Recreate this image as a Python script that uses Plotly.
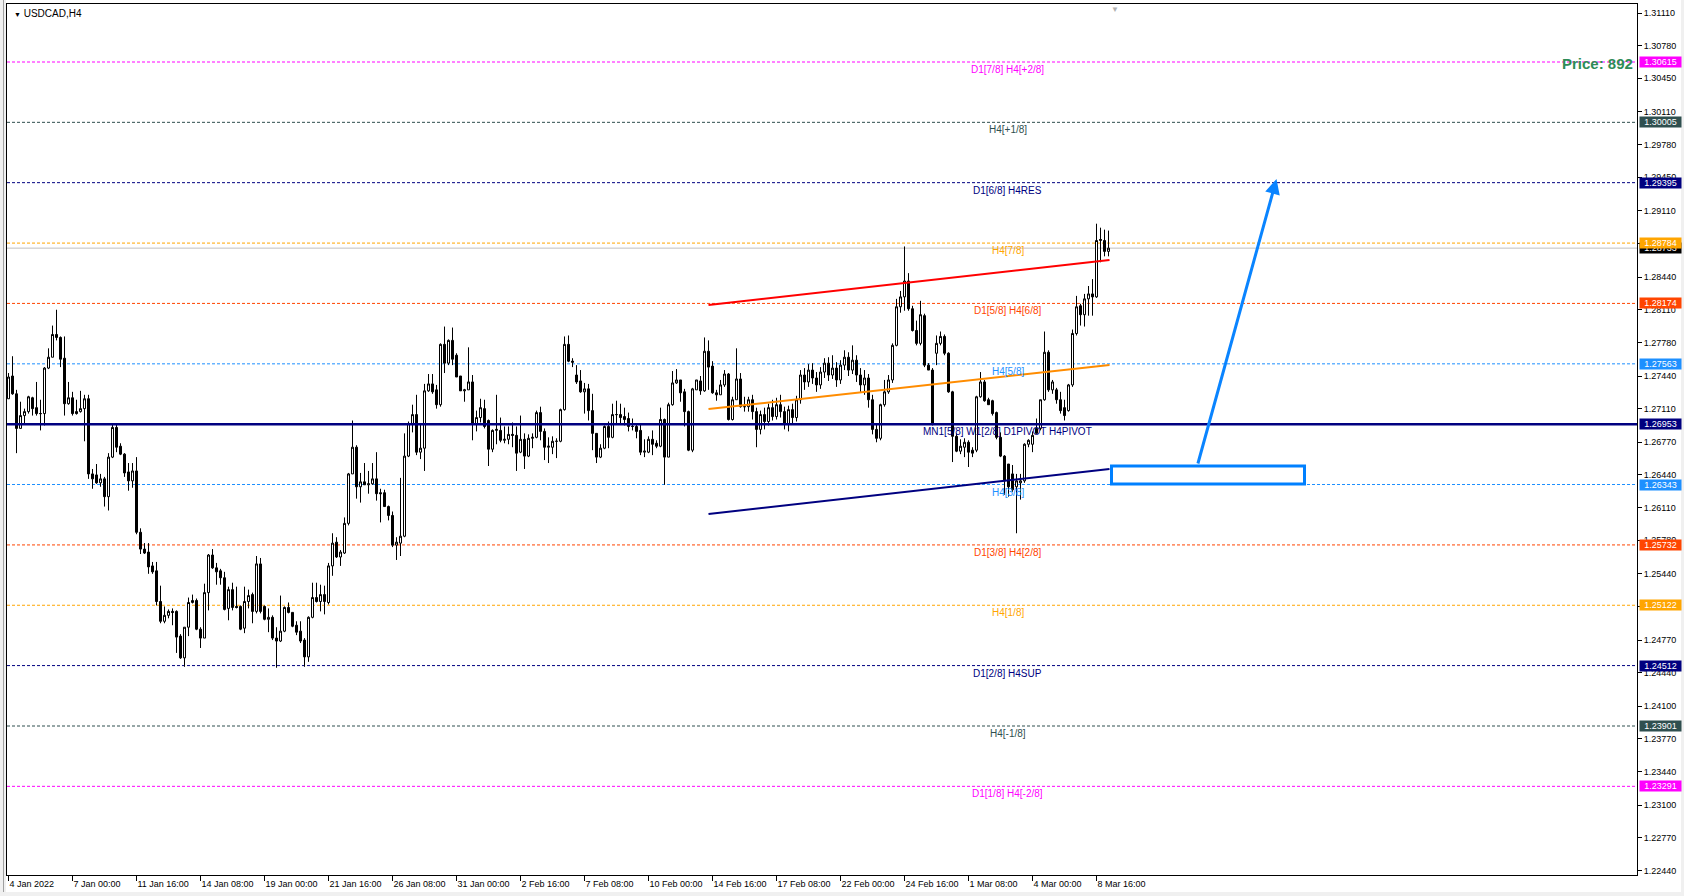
import plotly.graph_objects as go

# ---------------- DATA ----------------
opens = [
    1.2721, 1.2744, 1.2726, 1.2691, 1.2704, 1.2708, 1.2722, 1.2712, 1.2706, 1.2706,
    1.2752, 1.2763, 1.2786, 1.2783, 1.2762, 1.2716, 1.2722, 1.2708, 1.2708, 1.2711,
    1.2721, 1.2645, 1.2644, 1.2636, 1.2640, 1.2622, 1.2662, 1.2692, 1.2673, 1.2665,
    1.2647, 1.2638, 1.2648, 1.2586, 1.2569, 1.2566, 1.2552, 1.2547, 1.2516, 1.2496,
    1.2502, 1.2506, 1.2506, 1.2481, 1.2459, 1.2490, 1.2515, 1.2517, 1.2488, 1.2479,
    1.2525, 1.2563, 1.2550, 1.2547, 1.2540, 1.2509, 1.2528, 1.2511, 1.2511, 1.2489,
    1.2516, 1.2523, 1.2506, 1.2554, 1.2511, 1.2498, 1.2500, 1.2479, 1.2476, 1.2486,
    1.2510, 1.2505, 1.2492, 1.2486, 1.2477, 1.2460, 1.2500, 1.2520, 1.2516, 1.2523,
    1.2515, 1.2552, 1.2576, 1.2561, 1.2565, 1.2595, 1.2645, 1.2672, 1.2632, 1.2637,
    1.2634, 1.2635, 1.2640, 1.2626, 1.2626, 1.2612, 1.2603, 1.2573, 1.2575, 1.2582,
    1.2663, 1.2696, 1.2705, 1.2667, 1.2671, 1.2729, 1.2736, 1.2730, 1.2715, 1.2776,
    1.2757, 1.2780, 1.2765, 1.2744, 1.2729, 1.2730, 1.2738, 1.2695, 1.2702, 1.2711,
    1.2699, 1.2670, 1.2689, 1.2689, 1.2679, 1.2680, 1.2685, 1.2684, 1.2667, 1.2680,
    1.2663, 1.2681, 1.2682, 1.2707, 1.2688, 1.2672, 1.2672, 1.2678, 1.2678, 1.2710,
    1.2776, 1.2759, 1.2745, 1.2739, 1.2728, 1.2731, 1.2709, 1.2686, 1.2662, 1.2671,
    1.2693, 1.2682, 1.2705, 1.2705, 1.2703, 1.2701, 1.2693, 1.2693, 1.2689, 1.2667,
    1.2667, 1.2680, 1.2676, 1.2673, 1.2700, 1.2662, 1.2715, 1.2737, 1.2740, 1.2728,
    1.2708, 1.2669, 1.2730, 1.2739, 1.2729, 1.2769, 1.2754, 1.2727, 1.2725, 1.2735,
    1.2746, 1.2700, 1.2720, 1.2741, 1.2713, 1.2713, 1.2720, 1.2708, 1.2690, 1.2705,
    1.2698, 1.2712, 1.2703, 1.2715, 1.2708, 1.2696, 1.2710, 1.2702, 1.2720, 1.2745,
    1.2738, 1.2750, 1.2742, 1.2735, 1.2748, 1.2757, 1.2745, 1.2752, 1.2740, 1.2755,
    1.2763, 1.2750, 1.2760, 1.2745, 1.2735, 1.2742, 1.2720, 1.2690, 1.2681, 1.2715,
    1.2728, 1.2740, 1.2775, 1.2814, 1.2824, 1.2840, 1.2812, 1.2790, 1.2777, 1.2805,
    1.2755, 1.2750, 1.2767, 1.2777, 1.2784, 1.2767, 1.2728, 1.2683, 1.2668, 1.2672,
    1.2677, 1.2669, 1.2669, 1.2723, 1.2738, 1.2720, 1.2719, 1.2707, 1.2682, 1.2663,
    1.2655, 1.2645, 1.2632, 1.2636, 1.2638, 1.2675, 1.2675, 1.2691, 1.2691, 1.2720,
    1.2768, 1.2730, 1.2730, 1.2720, 1.2712, 1.2709, 1.2735, 1.2787, 1.2815, 1.2806,
    1.2822, 1.2827, 1.2824, 1.2881, 1.2881, 1.2870,
]
highs = [
    1.2747, 1.2764, 1.2730, 1.2718, 1.2711, 1.2724, 1.2723, 1.2738, 1.2720, 1.2753,
    1.2772, 1.2795, 1.2811, 1.2784, 1.2784, 1.2738, 1.2728, 1.2720, 1.2729, 1.2725,
    1.2725, 1.2650, 1.2655, 1.2645, 1.2642, 1.2666, 1.2695, 1.2695, 1.2676, 1.2666,
    1.2656, 1.2656, 1.2662, 1.2590, 1.2575, 1.2575, 1.2556, 1.2556, 1.2532, 1.2511,
    1.2508, 1.2509, 1.2507, 1.2483, 1.2490, 1.2520, 1.2523, 1.2519, 1.2490, 1.2534,
    1.2564, 1.2569, 1.2555, 1.2549, 1.2546, 1.2531, 1.2535, 1.2531, 1.2512, 1.2531,
    1.2528, 1.2525, 1.2562, 1.2560, 1.2512, 1.2509, 1.2502, 1.2490, 1.2522, 1.2511,
    1.2515, 1.2505, 1.2496, 1.2496, 1.2479, 1.2501, 1.2535, 1.2535, 1.2533, 1.2532,
    1.2555, 1.2585, 1.2581, 1.2568, 1.2601, 1.2646, 1.2699, 1.2674, 1.2646, 1.2656,
    1.2648, 1.2656, 1.2667, 1.2630, 1.2629, 1.2613, 1.2607, 1.2581, 1.2641, 1.2686,
    1.2698, 1.2715, 1.2725, 1.2696, 1.2736, 1.2746, 1.2746, 1.2735, 1.2777, 1.2794,
    1.2781, 1.2793, 1.2767, 1.2744, 1.2731, 1.2773, 1.2745, 1.2709, 1.2721, 1.2720,
    1.2700, 1.2690, 1.2725, 1.2702, 1.2693, 1.2693, 1.2697, 1.2693, 1.2704, 1.2686,
    1.2685, 1.2686, 1.2709, 1.2713, 1.2691, 1.2682, 1.2683, 1.2681, 1.2711, 1.2784,
    1.2785, 1.2762, 1.2755, 1.2750, 1.2737, 1.2736, 1.2726, 1.2686, 1.2675, 1.2694,
    1.2698, 1.2716, 1.2719, 1.2716, 1.2712, 1.2707, 1.2701, 1.2695, 1.2696, 1.2680,
    1.2683, 1.2689, 1.2679, 1.2712, 1.2701, 1.2717, 1.2749, 1.2751, 1.2740, 1.2731,
    1.2709, 1.2732, 1.2740, 1.2744, 1.2783, 1.2780, 1.2759, 1.2730, 1.2740, 1.2750,
    1.2747, 1.2723, 1.2772, 1.2747, 1.2723, 1.2723, 1.2725, 1.2712, 1.2709, 1.2712,
    1.2716, 1.2720, 1.2722, 1.2725, 1.2713, 1.2714, 1.2716, 1.2724, 1.2750, 1.2752,
    1.2756, 1.2757, 1.2748, 1.2753, 1.2762, 1.2763, 1.2765, 1.2758, 1.2760, 1.2770,
    1.2768, 1.2775, 1.2765, 1.2752, 1.2750, 1.2746, 1.2725, 1.2696, 1.2716, 1.2740,
    1.2745, 1.2777, 1.2822, 1.2830, 1.2875, 1.2848, 1.2815, 1.2800, 1.2820, 1.2807,
    1.2757, 1.2752, 1.2785, 1.2789, 1.2786, 1.2768, 1.2729, 1.2686, 1.2680, 1.2681,
    1.2679, 1.2672, 1.2724, 1.2748, 1.2740, 1.2722, 1.2720, 1.2708, 1.2687, 1.2664,
    1.2655, 1.2654, 1.2645, 1.2645, 1.2676, 1.2680, 1.2688, 1.2701, 1.2720, 1.2789,
    1.2770, 1.2740, 1.2732, 1.2728, 1.2720, 1.2736, 1.2791, 1.2825, 1.2817, 1.2827,
    1.2835, 1.2842, 1.2898, 1.2894, 1.2892, 1.2891,
]
lows = [
    1.2721, 1.2725, 1.2666, 1.2691, 1.2696, 1.2706, 1.2704, 1.2704, 1.2689, 1.2694,
    1.2751, 1.2763, 1.2780, 1.2753, 1.2704, 1.2715, 1.2704, 1.2705, 1.2707, 1.2678,
    1.2640, 1.2630, 1.2635, 1.2632, 1.2612, 1.2608, 1.2661, 1.2667, 1.2664, 1.2642,
    1.2628, 1.2631, 1.2584, 1.2564, 1.2564, 1.2544, 1.2544, 1.2512, 1.2494, 1.2494,
    1.2499, 1.2492, 1.2464, 1.2458, 1.2450, 1.2481, 1.2514, 1.2487, 1.2469, 1.2479,
    1.2507, 1.2549, 1.2533, 1.2533, 1.2507, 1.2497, 1.2507, 1.2509, 1.2487, 1.2484,
    1.2509, 1.2494, 1.2504, 1.2504, 1.2497, 1.2485, 1.2477, 1.2449, 1.2475, 1.2485,
    1.2504, 1.2490, 1.2482, 1.2474, 1.2450, 1.2455, 1.2499, 1.2515, 1.2506, 1.2503,
    1.2513, 1.2542, 1.2560, 1.2552, 1.2564, 1.2593, 1.2645, 1.2620, 1.2616, 1.2634,
    1.2625, 1.2634, 1.2618, 1.2596, 1.2612, 1.2598, 1.2571, 1.2558, 1.2562, 1.2581,
    1.2662, 1.2687, 1.2664, 1.2660, 1.2648, 1.2728, 1.2726, 1.2711, 1.2713, 1.2747,
    1.2755, 1.2755, 1.2743, 1.2729, 1.2718, 1.2730, 1.2679, 1.2688, 1.2697, 1.2691,
    1.2653, 1.2667, 1.2675, 1.2677, 1.2676, 1.2675, 1.2672, 1.2648, 1.2666, 1.2650,
    1.2662, 1.2671, 1.2681, 1.2679, 1.2659, 1.2656, 1.2665, 1.2661, 1.2677, 1.2709,
    1.2758, 1.2753, 1.2736, 1.2727, 1.2706, 1.2699, 1.2669, 1.2656, 1.2661, 1.2670,
    1.2671, 1.2681, 1.2696, 1.2696, 1.2694, 1.2688, 1.2689, 1.2681, 1.2664, 1.2662,
    1.2666, 1.2664, 1.2671, 1.2672, 1.2634, 1.2662, 1.2714, 1.2736, 1.2718, 1.2693,
    1.2668, 1.2667, 1.2730, 1.2725, 1.2728, 1.2730, 1.2726, 1.2719, 1.2725, 1.2733,
    1.2699, 1.2699, 1.2720, 1.2712, 1.2708, 1.2708, 1.2700, 1.2672, 1.2685, 1.2690,
    1.2694, 1.2699, 1.2700, 1.2702, 1.2690, 1.2688, 1.2695, 1.2698, 1.2716, 1.2730,
    1.2733, 1.2736, 1.2728, 1.2731, 1.2742, 1.2739, 1.2741, 1.2733, 1.2736, 1.2750,
    1.2744, 1.2746, 1.2738, 1.2728, 1.2725, 1.2712, 1.2685, 1.2677, 1.2679, 1.2713,
    1.2726, 1.2737, 1.2774, 1.2808, 1.2810, 1.2810, 1.2789, 1.2775, 1.2775, 1.2753,
    1.2750, 1.2694, 1.2755, 1.2775, 1.2765, 1.2727, 1.2657, 1.2667, 1.2665, 1.2662,
    1.2652, 1.2662, 1.2667, 1.2722, 1.2718, 1.2715, 1.2704, 1.2680, 1.2662, 1.2624,
    1.2622, 1.2627, 1.2585, 1.2619, 1.2636, 1.2672, 1.2667, 1.2686, 1.2689, 1.2719,
    1.2728, 1.2726, 1.2716, 1.2706, 1.2699, 1.2708, 1.2733, 1.2785, 1.2795, 1.2794,
    1.2805, 1.2805, 1.2823, 1.2859, 1.2865, 1.2865,
]
closes = [
    1.2743, 1.2726, 1.2691, 1.2704, 1.2708, 1.2723, 1.2711, 1.2706, 1.2706, 1.2752,
    1.2763, 1.2786, 1.2783, 1.2761, 1.2716, 1.2722, 1.2706, 1.2706, 1.2711, 1.2721,
    1.2645, 1.2640, 1.2636, 1.2640, 1.2622, 1.2662, 1.2692, 1.2672, 1.2665, 1.2646,
    1.2638, 1.2648, 1.2586, 1.2569, 1.2565, 1.2551, 1.2546, 1.2516, 1.2496, 1.2502,
    1.2506, 1.2505, 1.2480, 1.2459, 1.2490, 1.2515, 1.2517, 1.2488, 1.2479, 1.2525,
    1.2563, 1.2550, 1.2546, 1.2540, 1.2508, 1.2528, 1.2510, 1.2510, 1.2488, 1.2516,
    1.2522, 1.2506, 1.2554, 1.2506, 1.2498, 1.2500, 1.2479, 1.2476, 1.2486, 1.2510,
    1.2505, 1.2491, 1.2485, 1.2476, 1.2460, 1.2500, 1.2520, 1.2516, 1.2523, 1.2516,
    1.2552, 1.2575, 1.2561, 1.2566, 1.2595, 1.2645, 1.2672, 1.2632, 1.2637, 1.2634,
    1.2635, 1.2640, 1.2625, 1.2625, 1.2612, 1.2603, 1.2573, 1.2576, 1.2582, 1.2663,
    1.2696, 1.2705, 1.2667, 1.2671, 1.2729, 1.2736, 1.2728, 1.2715, 1.2776, 1.2757,
    1.2780, 1.2761, 1.2743, 1.2729, 1.2730, 1.2738, 1.2695, 1.2702, 1.2712, 1.2693,
    1.2670, 1.2689, 1.2690, 1.2679, 1.2680, 1.2685, 1.2684, 1.2666, 1.2680, 1.2663,
    1.2681, 1.2682, 1.2707, 1.2688, 1.2672, 1.2673, 1.2678, 1.2678, 1.2710, 1.2776,
    1.2759, 1.2758, 1.2738, 1.2728, 1.2731, 1.2709, 1.2686, 1.2662, 1.2671, 1.2693,
    1.2682, 1.2705, 1.2705, 1.2702, 1.2700, 1.2693, 1.2693, 1.2688, 1.2667, 1.2668,
    1.2680, 1.2675, 1.2673, 1.2700, 1.2662, 1.2715, 1.2737, 1.2740, 1.2727, 1.2708,
    1.2669, 1.2731, 1.2740, 1.2729, 1.2769, 1.2753, 1.2727, 1.2725, 1.2735, 1.2746,
    1.2700, 1.2720, 1.2741, 1.2713, 1.2713, 1.2720, 1.2708, 1.2690, 1.2705, 1.2698,
    1.2712, 1.2703, 1.2715, 1.2708, 1.2696, 1.2710, 1.2702, 1.2720, 1.2745, 1.2738,
    1.2750, 1.2742, 1.2735, 1.2748, 1.2757, 1.2745, 1.2752, 1.2740, 1.2755, 1.2763,
    1.2750, 1.2760, 1.2745, 1.2735, 1.2742, 1.2720, 1.2690, 1.2681, 1.2715, 1.2728,
    1.2740, 1.2775, 1.2814, 1.2824, 1.2840, 1.2812, 1.2790, 1.2777, 1.2806, 1.2755,
    1.2750, 1.2695, 1.2777, 1.2784, 1.2767, 1.2728, 1.2683, 1.2668, 1.2673, 1.2677,
    1.2667, 1.2666, 1.2723, 1.2738, 1.2719, 1.2715, 1.2706, 1.2682, 1.2663, 1.2638,
    1.2632, 1.2629, 1.2638, 1.2638, 1.2675, 1.2679, 1.2684, 1.2686, 1.2720, 1.2768,
    1.2730, 1.2738, 1.2720, 1.2709, 1.2704, 1.2735, 1.2787, 1.2814, 1.2806, 1.2822,
    1.2827, 1.2824, 1.2881, 1.2882, 1.2870, 1.28733,
]

x_tick_bars = [0, 16, 32, 48, 64, 80, 96, 112, 128, 144, 160, 176, 192, 208, 224, 240, 256, 272]
x_tick_text = ["4 Jan 2022", "7 Jan 00:00", "11 Jan 16:00", "14 Jan 08:00", "19 Jan 00:00",
               "21 Jan 16:00", "26 Jan 08:00", "31 Jan 00:00", "2 Feb 16:00", "7 Feb 08:00",
               "10 Feb 00:00", "14 Feb 16:00", "17 Feb 08:00", "22 Feb 00:00", "24 Feb 16:00",
               "1 Mar 08:00", "4 Mar 00:00", "8 Mar 16:00"]

price_tick_text = ["1.31110", "1.30780", "1.30450", "1.30110", "1.29780", "1.29450", "1.29110",
                   "1.28780", "1.28440", "1.28110", "1.27780", "1.27440", "1.27110", "1.26770",
                   "1.26440", "1.26110", "1.25780", "1.25440", "1.25110", "1.24770", "1.24440",
                   "1.24100", "1.23770", "1.23440", "1.23100", "1.22770", "1.22440"]

level_prices = [1.30615, 1.30005, 1.29395, 1.28784, 1.28174, 1.27563, 1.26953,
                1.26343, 1.25732, 1.25122, 1.24512, 1.23901, 1.23291]
level_names = ["D1[7/8] H4[+2/8]", "H4[+1/8]", "D1[6/8] H4RES", "H4[7/8]", "D1[5/8] H4[6/8]",
               "H4[5/8]", "MN1[5/8] W1[2/8] D1PIVOT H4PIVOT", "H4[3/8]", "D1[3/8] H4[2/8]",
               "H4[1/8]", "D1[2/8] H4SUP", "H4[-1/8]", "D1[1/8] H4[-2/8]"]
current_price = 1.28733
price_note = "Price: 892"

trend_x = [175, 275.25]
red_trend = [1.28158, 1.28613]
orange_trend = [1.27106, 1.27551]
navy_trend = [1.26045, 1.26500]

zone_x = [275.75, 324]
zone_y = [1.26348, 1.26530]
arrow_x = [297.25, 317]
arrow_y = [1.26540, 1.29432]

# ---------------- STYLE ----------------
level_colors = ["#FF00FF", "#2F4F4F", "#000080", "#FFA500", "#FF4500", "#1E90FF", "#000080",
                "#1E90FF", "#FF4500", "#FFA500", "#000080", "#2F4F4F", "#FF00FF"]
FONT = "Liberation Sans"
W, H = 1684, 896
ML, MR, MT, MB = 7, 47, 4, 21
PW, PH = W - ML - MR, H - MT - MB

bars = list(range(len(opens)))

fig = go.Figure()
fig.add_trace(go.Candlestick(
    x=bars, open=opens, high=highs, low=lows, close=closes,
    increasing=dict(fillcolor="white", line=dict(color="black", width=1)),
    decreasing=dict(fillcolor="black", line=dict(color="black", width=1)),
    whiskerwidth=0, hoverinfo="skip", showlegend=False,
))

shapes = []
annotations = []

# level lines
for p, c, name in zip(level_prices, level_colors, level_names):
    pivot = name.startswith("MN1")
    shapes.append(dict(type="line", xref="paper", x0=0, x1=1, yref="y", y0=p, y1=p,
                       line=dict(color=c, width=2.5 if pivot else 1,
                                 dash="solid" if pivot else "3px,2px"),
                       layer="above" if pivot else "below"))
    annotations.append(dict(x=249.75, y=p, xref="x", yref="y", text=name, showarrow=False,
                            xanchor="center", yanchor="top", yshift=0,
                            font=dict(family=FONT, size=10, color=c)))

# current price line
shapes.append(dict(type="line", xref="paper", x0=0, x1=1, yref="y", y0=current_price,
                   y1=current_price, line=dict(color="#C0C0C0", width=1), layer="below"))

# trend lines
for ys, col in [(red_trend, "#FF0000"), (orange_trend, "#FF8C00"), (navy_trend, "#000080")]:
    shapes.append(dict(type="line", xref="x", yref="y", x0=trend_x[0], x1=trend_x[1],
                       y0=ys[0], y1=ys[1], line=dict(color=col, width=2), layer="above"))

# zone rectangle
shapes.append(dict(type="rect", xref="x", yref="y", x0=zone_x[0], x1=zone_x[1],
                   y0=zone_y[0], y1=zone_y[1], line=dict(color="#0080FF", width=3),
                   fillcolor="rgba(0,0,0,0)", layer="above"))

# arrow
annotations.append(dict(x=arrow_x[1], y=arrow_y[1], ax=arrow_x[0], ay=arrow_y[0],
                        xref="x", yref="y", axref="x", ayref="y", text="", showarrow=True,
                        arrowhead=2, arrowsize=1, arrowwidth=3, arrowcolor="#0A84FF",
                        standoff=0, startstandoff=0))

# right axis price boxes (current price box first, under the orange one)
box_list = [(current_price, "#000000")] + list(zip(level_prices, level_colors))
for p, c in box_list:
    annotations.append(dict(x=1, y=p, xref="paper", yref="y", text=f"{p:.5f}",
                            showarrow=False, xanchor="left", yanchor="middle", xshift=2,
                            width=39, height=8, borderpad=1, bgcolor=c, align="center",
                            font=dict(family=FONT, size=9, color="white")))

# Price note
annotations.append(dict(x=1, y=level_prices[0], xref="paper", yref="y",
                        text=f"<b>{price_note}</b>", showarrow=False, xanchor="right",
                        yanchor="middle", xshift=-2, yshift=-1,
                        font=dict(family=FONT, size=15, color="#2E8B57")))

# title
annotations.append(dict(x=5 / PW, y=1, xref="paper", yref="paper",
                        text="<span style='font-size:7px'>▼</span> USDCAD,H4",
                        showarrow=False, xanchor="left", yanchor="top", yshift=-2,
                        font=dict(family=FONT, size=10, color="black")))

# chart shift marker
annotations.append(dict(x=276.5, y=1, xref="x", yref="paper", text="▼", showarrow=False,
                        xanchor="center", yanchor="top", yshift=1,
                        font=dict(family=FONT, size=8, color="#B0B0B0")))

# window chrome
def px_x(v):
    return (v - ML) / PW

def px_y(v):
    return (H - MB - v) / PH

shapes.append(dict(type="rect", xref="paper", yref="paper", x0=px_x(0), x1=px_x(6),
                   y0=px_y(H), y1=px_y(0), fillcolor="#F0F0F0", line=dict(width=0)))
shapes.append(dict(type="line", xref="paper", yref="paper", x0=px_x(3.5), x1=px_x(3.5),
                   y0=px_y(H), y1=px_y(0), line=dict(color="#A0A0A0", width=1)))
shapes.append(dict(type="rect", xref="paper", yref="paper", x0=px_x(0), x1=px_x(W),
                   y0=px_y(H), y1=px_y(892), fillcolor="#F0F0F0", line=dict(width=0)))
shapes.append(dict(type="rect", xref="paper", yref="paper", x0=px_x(1681), x1=px_x(W),
                   y0=px_y(H), y1=px_y(0), fillcolor="#F0F0F0", line=dict(width=0)))

y_top = 1.30615 + 58 / 9890
y_bot = 1.30615 - 813 / 9890

fig.update_layout(
    width=W, height=H,
    margin=dict(l=ML, r=MR, t=MT, b=MB, pad=0),
    paper_bgcolor="white", plot_bgcolor="white",
    shapes=shapes, annotations=annotations,
    showlegend=False, hovermode=False,
    boxgap=0.5, boxgroupgap=0,
    xaxis=dict(range=[-0.375, 407.125], tickmode="array", tickvals=x_tick_bars,
               ticktext=x_tick_text, ticks="outside", ticklen=5, tickcolor="black",
               ticklabelposition="outside right",
               tickfont=dict(family=FONT, size=9, color="black"),
               showline=True, mirror=True, linecolor="black", linewidth=1,
               showgrid=False, zeroline=False, rangeslider=dict(visible=False),
               fixedrange=True),
    yaxis=dict(range=[y_bot, y_top], side="right", tickmode="array",
               tickvals=[float(t) for t in price_tick_text], ticktext=price_tick_text,
               ticks="outside", ticklen=4, tickcolor="black",
               tickfont=dict(family=FONT, size=9, color="black"),
               showline=True, mirror=True, linecolor="black", linewidth=1,
               showgrid=False, zeroline=False, fixedrange=True),
)

fig.write_html(
    "out.html",
    config={"displayModeBar": False},
    post_script="document.body.style.margin='0';document.body.style.overflow='hidden';",
)
